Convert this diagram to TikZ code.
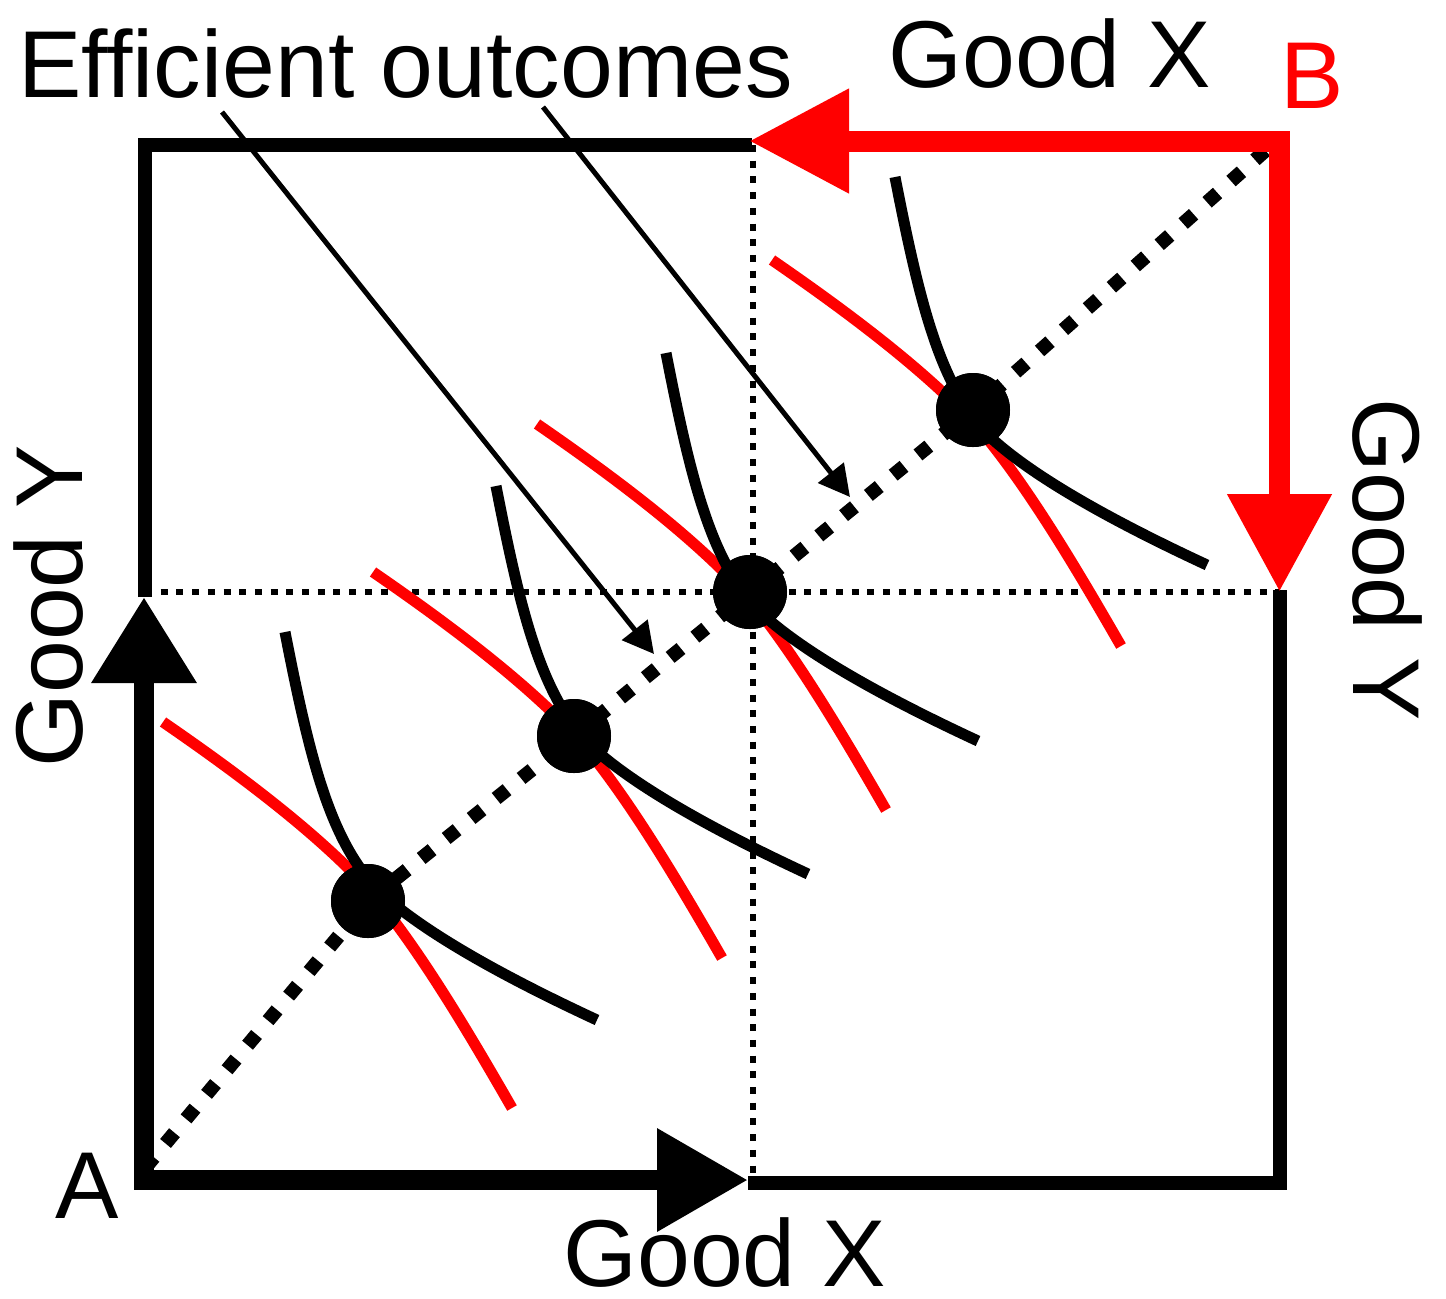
\documentclass[tikz,border=0pt]{standalone}
\usepackage{fontspec}
\setmainfont{Liberation Sans}
\usetikzlibrary{arrows.meta}
\begin{document}
\begin{tikzpicture}[x=0.5pt,y=-0.5pt,
  lbl/.style={inner sep=0pt, anchor=base west, font=\fontsize{47.5}{57}\selectfont},
  thinbox/.style={line width=7pt, line join=miter},
  thickax/.style={line width=10pt, line join=miter},
  redax/.style={line width=10.5pt, red, line join=miter},
  guide/.style={line width=3pt, dash pattern=on 3.5pt off 4.35pt},
  contract/.style={line width=7pt, dash pattern=on 7pt off 9pt},
  icA/.style={line width=5.5pt},
  icB/.style={line width=5.5pt, red},
  dot/.style={circle, fill=black, minimum size=37pt, inner sep=0pt},
  pointer/.style={line width=2.5pt, -{Triangle[length=15.5pt,width=16pt]}},
]
\useasboundingbox (0,0) rectangle (1446,1298);

% guide lines
\draw[guide] (753,145) -- (753,1180);
\draw[guide] (145,592) -- (1280,592);

% indifference curves (red: B, black: A)
\foreach \dx/\dy in {0/0, 210/-150, 374/-298, 609/-462}{
  \begin{scope}[shift={(\dx,\dy)}]
    \draw[icB] (163,722) .. controls (240,775) and (320,835) .. (372,893)
               .. controls (420,950) and (470,1035) .. (512,1108);
  \end{scope}
}
\foreach \dx/\dy in {0/0, 211/-146, 381/-279, 610/-455}{
  \begin{scope}[shift={(\dx,\dy)}]
    \draw[icA] (285,632) .. controls (310,760) and (330,840) .. (378,890)
               .. controls (420,930) and (500,975) .. (597,1020);
  \end{scope}
}

% dots
\node[dot] (d1) at (368,901) {};
\node[dot] (d2) at (574,736) {};
\node[dot] (d3) at (750,592) {};
\node[dot] (d4) at (973,410) {};

% contract curve
\coordinate (ca) at (145,1168);
\coordinate (cb) at (1275,142);
\draw[contract] (ca) -- (d1.center) -- (d2.center) -- (d3.center) -- (d4.center) -- (cb);
\node[dot] at (d1) {};
\node[dot] at (d2) {};
\node[dot] at (d3) {};
\node[dot] at (d4) {};

% box
\draw[thinbox] (145,597) -- (145,145) -- (752,145);
\draw[thinbox] (748,1183) -- (1280,1183) -- (1280,590);
\draw[thickax, {Triangle[length=45.5pt,width=49pt]}-{Triangle[length=43pt,width=50pt]}]
  (748,1180) -- (144,1180) -- (144,597);
\draw[redax, {Triangle[length=50pt,width=49.5pt]}-{Triangle[length=49pt,width=49.5pt]}]
  (749,141) -- (1279.5,141) -- (1279.5,592);

% labels
\node[lbl] (eff) at (18,97) {Efficient outcomes};
\node[lbl] (gxt) at (888,87) {Good X};
\node[lbl, text=red] (lb) at (1280,108) {B};
\node[lbl] (la) at (55,1218) {A};
\node[lbl] (gxb) at (563,1286) {Good X};
\node[lbl, rotate=90] (gyl) at (83,768) {Good Y};
\node[lbl, rotate=-90] (gyr) at (1353,398) {Good Y};

% pointers
\coordinate (s1) at (222,112);
\coordinate (t1) at (654,654);
\coordinate (s2) at (543,107);
\coordinate (t2) at (850,497);
\draw[pointer] (s1) -- (t1);
\draw[pointer] (s2) -- (t2);
\end{tikzpicture}
\end{document}
